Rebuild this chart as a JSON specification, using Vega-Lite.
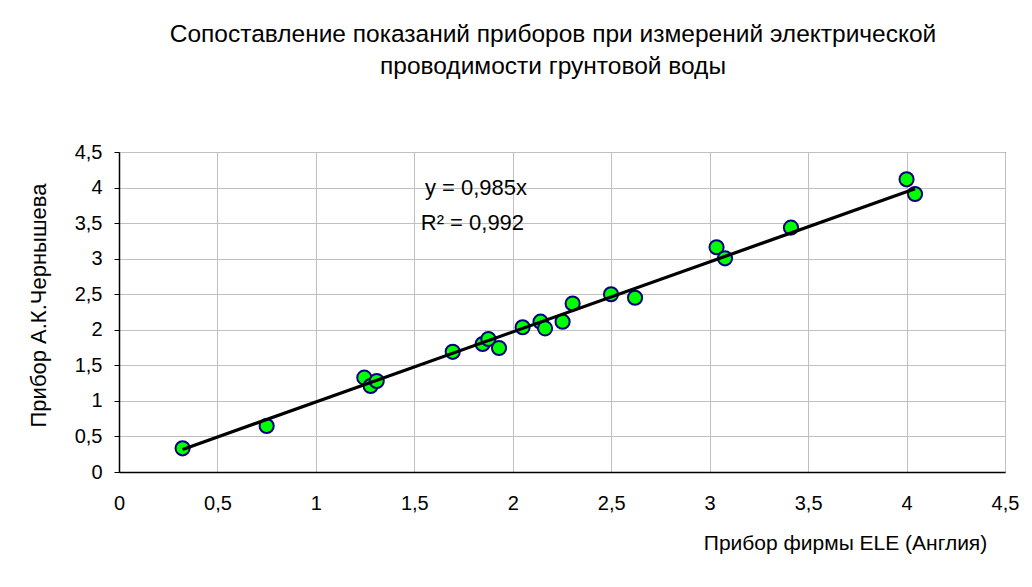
{
  "$schema": "https://vega.github.io/schema/vega-lite/v6.json",
  "autosize": "none",
  "width": 886,
  "height": 320,
  "padding": {"left": 119, "top": 152, "right": 27, "bottom": 115},
  "background": "white",
  "config": {
    "font": "Liberation Sans",
    "view": {"stroke": "#000000", "strokeWidth": 1},
    "axis": {"labelFont": "Liberation Sans", "titleFont": "Liberation Sans", "labelColor": "#000", "titleColor": "#000", "titleFontWeight": "normal"}
  },
  "title": {
    "text": ["Сопоставление показаний приборов при измерений электрической", "проводимости грунтовой воды"],
    "font": "Liberation Sans",
    "fontSize": 24.5,
    "fontWeight": "normal",
    "color": "#000",
    "anchor": "middle",
    "lineHeight": 32,
    "offset": 63,
    "dx": -9
  },
  "datasets": {
    "points": [
      {"ele": 0.323, "akc": 0.333},
      {"ele": 0.750, "akc": 0.647},
      {"ele": 1.246, "akc": 1.327},
      {"ele": 1.278, "akc": 1.21},
      {"ele": 1.309, "akc": 1.28},
      {"ele": 1.695, "akc": 1.69},
      {"ele": 1.847, "akc": 1.80},
      {"ele": 1.876, "akc": 1.87},
      {"ele": 1.930, "akc": 1.744},
      {"ele": 2.050, "akc": 2.035},
      {"ele": 2.141, "akc": 2.114},
      {"ele": 2.164, "akc": 2.02},
      {"ele": 2.253, "akc": 2.114},
      {"ele": 2.304, "akc": 2.37},
      {"ele": 2.499, "akc": 2.50},
      {"ele": 2.621, "akc": 2.45},
      {"ele": 3.035, "akc": 3.16},
      {"ele": 3.078, "akc": 3.005},
      {"ele": 3.413, "akc": 3.436},
      {"ele": 4.000, "akc": 4.116},
      {"ele": 4.043, "akc": 3.91}
    ],
    "trend": [
      {"ele": 0.323, "akc": 0.318},
      {"ele": 4.043, "akc": 3.982}
    ],
    "labels": [
      {"text": "y = 0,985x", "ele": 1.813, "akc": 3.99},
      {"text": "R² = 0,992", "ele": 1.795, "akc": 3.50}
    ]
  },
  "encoding": {
    "x": {
      "field": "ele", "type": "quantitative",
      "scale": {"domain": [0, 4.5], "nice": false, "zero": true},
      "axis": {
        "title": "Прибор фирмы ELE (Англия)",
        "titleFontSize": 21,
        "titleX": 726, "titleY": 71, "titleAlign": "center", "titleBaseline": "middle",
        "values": [0, 0.5, 1, 1.5, 2, 2.5, 3, 3.5, 4, 4.5],
        "format": "~g",
        "labelExpr": "replace(datum.label, '.', ',')",
        "labelFontSize": 20,
        "labelPadding": 21,
        "labelOverlap": false,
        "labelFlush": false,
        "ticks": false,
        "domainColor": "#000", "domainWidth": 1.5,
        "grid": true, "gridColor": "#c0c0c0", "gridWidth": 1
      }
    },
    "y": {
      "field": "akc", "type": "quantitative",
      "scale": {"domain": [0, 4.5], "nice": false, "zero": true},
      "axis": {
        "title": "Прибор А.К.Чернышева",
        "titleFontSize": 22,
        "titleAngle": -90,
        "titleX": -81, "titleY": 153, "titleAlign": "center", "titleBaseline": "middle",
        "values": [0, 0.5, 1, 1.5, 2, 2.5, 3, 3.5, 4, 4.5],
        "format": "~g",
        "labelExpr": "replace(datum.label, '.', ',')",
        "labelFontSize": 20,
        "labelPadding": 12,
        "labelOverlap": false,
        "labelFlush": false,
        "ticks": true, "tickSize": 5, "tickColor": "#000", "tickWidth": 1,
        "domainColor": "#000", "domainWidth": 1.5,
        "grid": true, "gridColor": "#c0c0c0", "gridWidth": 1
      }
    }
  },
  "layer": [
    {
      "data": {"name": "points"},
      "mark": {"type": "point", "shape": "circle", "filled": true, "fill": "#00FF00", "stroke": "#000080", "strokeWidth": 2, "size": 200, "opacity": 1}
    },
    {
      "data": {"name": "trend"},
      "mark": {"type": "line", "color": "#000000", "strokeWidth": 3.2}
    },
    {
      "data": {"name": "labels"},
      "mark": {"type": "text", "font": "Liberation Sans", "fontSize": 22, "color": "#000", "align": "center", "baseline": "middle"},
      "encoding": {
        "text": {"field": "text"}
      }
    }
  ]
}
